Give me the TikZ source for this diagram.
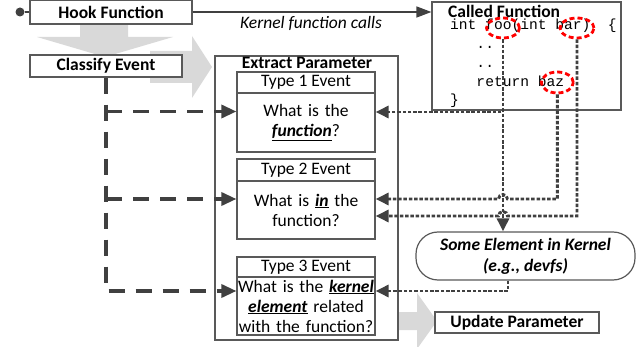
\documentclass[tikz,border=0pt]{standalone}
\usepackage{fontspec}
\setmainfont{Carlito}
\newfontfamily\codefont{Liberation Mono}
\usetikzlibrary{arrows.meta,calc,shapes.geometric}
\definecolor{boxline}{HTML}{595959}
\definecolor{conn}{HTML}{404040}
\definecolor{bigarrow}{HTML}{D9D9D9}
\newcommand\diagfont{\fontsize{17.5}{20}\selectfont}
\newcommand\kw[1]{\underline{\textbf{\textit{#1}}}}
\begin{document}
\begin{tikzpicture}[x=1pt,y=-1pt,
  box/.style={draw=boxline, line width=1.2pt, fill=white, inner sep=0pt, font=\diagfont},
  bigarr/.style={fill=bigarrow, draw=none},
  redell/.style={ellipse, draw=red, line width=2.8pt, dash pattern=on 5pt off 3pt, inner sep=0pt},
  hookline/.style={draw=conn, line width=1.5pt},
  thickdash/.style={draw=conn, line width=3.3pt, dash pattern=on 16pt off 11pt, -{Triangle[length=15pt,width=13pt]}},
  dotconn/.style={draw=conn, line width=2.9pt, dash pattern=on 3.5pt off 1.8pt, -{Triangle[length=13pt,width=12pt]}},
  code/.style={anchor=base west, inner sep=0pt, font=\codefont\fontsize{14.6}{19}\selectfont},
  plain/.style={inner sep=0pt, font=\diagfont}
]
\useasboundingbox (0,0) rectangle (637,347);

% big gray arrows
\fill[bigarr] (80,24) -- (128,24) -- (128,37) -- (173,37) -- (105,57) -- (37,37) -- (80,37) -- cycle;
\fill[bigarr] (150,51) -- (192,51) -- (192,36) -- (212,67) -- (192,98) -- (192,83) -- (150,83) -- cycle;
\fill[bigarr] (370,312) -- (417,312) -- (417,293) -- (437,321) -- (417,349) -- (417,330) -- (370,330) -- cycle;

% boxes
\node[box, minimum width=162pt, minimum height=24pt] (hook) at (111,12) {\bfseries Hook Function};
\node[box, minimum width=152pt, minimum height=22pt] (classify) at (106,66) {\bfseries Classify Event};
\node[box, minimum width=183pt, minimum height=284pt] (extract) at (306.5,198) {};
\node[plain, anchor=base] (extracttitle) at (307,69) {\bfseries Extract Parameter};

\node[box, minimum width=138pt, minimum height=21pt] (t1h) at (306,82.5) {Type 1 Event};
\node[box, minimum width=138pt, minimum height=59pt, text width=138pt, align=center] (t1b) at (306,122.5) {What is the\\\kw{function}?};
\node[box, minimum width=138pt, minimum height=22pt] (t2h) at (306,170) {Type 2 Event};
\node[box, minimum width=138pt, minimum height=58pt, text width=138pt, align=center] (t2b) at (306,210) {What is \kw{in} the\\function?};
\node[box, minimum width=138pt, minimum height=20pt] (t3h) at (306,267) {Type 3 Event};
\node[box, minimum width=138pt, minimum height=58pt, text width=138pt, align=center] (t3b) at (306,306) {What is the \kw{kernel}\\\kw{element} related\\with the function?};

\node[box, minimum width=189pt, minimum height=108pt] (called) at (526.5,56) {};
\node[plain, anchor=base west] (calledtitle) at (448,17.5) {\bfseries Called Function};
\node[code] (code1) at (450,30) {int~foo(int~bar)~~\{};
\node[code] (code2) at (450,48.5) {~~~..};
\node[code] (code3) at (450,67.5) {~~~..};
\node[code] (code4) at (450,87) {~~~return~baz};
\node[code] (code5) at (450,105) {\}};

\node[redell, minimum width=33pt, minimum height=20pt] (fooE) at (503,28) {};
\node[redell, minimum width=34pt, minimum height=20pt] (barE) at (577,28) {};
\node[redell, minimum width=32pt, minimum height=21pt] (bazE) at (557.3,82.5) {};

\node[box, rounded corners=22pt, minimum width=219pt, minimum height=48pt, align=center, font=\fontsize{17.5}{21}\selectfont\bfseries\itshape] (some) at (525.5,256) {Some Element in Kernel\\(e.g., devfs)};
\node[box, minimum width=164pt, minimum height=21pt] (update) at (517,322.5) {\bfseries Update Parameter};

\node[plain, anchor=base, font=\diagfont\itshape] (kfc) at (311,28.5) {Kernel function calls};

% hook connectors
\node[circle, fill=conn, inner sep=0pt, minimum size=9pt] (dot) at (20,12) {};
\draw[hookline] (dot) -- (hook.west);
\draw[hookline, -{Triangle[length=15pt,width=11pt]}] (hook.east) -- (hook.east -| called.west);

% classify dashed connectors
\coordinate (a1) at ($(t1b.west)+(0,-11)$);
\coordinate (a2) at ($(t2b.west)+(0,-11)$);
\coordinate (a3) at ($(t3b.west)+(0,-15)$);
\draw[thickdash] (classify.south) |- (a3);
\draw[thickdash] (classify.south |- a1) -- (a1);
\draw[thickdash] (classify.south |- a2) -- (a2);

% dotted connectors
\coordinate (b1) at ($(t1b.east)+(0,-10.5)$);
\coordinate (b2) at ($(t2b.east)+(0,-11)$);
\coordinate (b3) at ($(t2b.east)+(0,6)$);
\coordinate (b4) at ($(t3b.east)+(0,-15)$);
\draw[dotconn] (fooE.south) |- (b1);
\draw[dotconn] (fooE.south) -- (fooE.south |- some.north);
\draw[dotconn] (bazE.south) -- (bazE.south |- b2) -- ($(fooE.south |- b2)+(4.5,0)$) arc[start angle=0, end angle=-180, radius=4.5] -- (b2);
\draw[dotconn] (barE.south) -- (barE.south |- b3) -- ($(fooE.south |- b3)+(4.5,0)$) arc[start angle=0, end angle=-180, radius=4.5] -- (b3);
\draw[dotconn] ($(some.south)+(-17.5,0)$) |- (b4);
\end{tikzpicture}
\end{document}
